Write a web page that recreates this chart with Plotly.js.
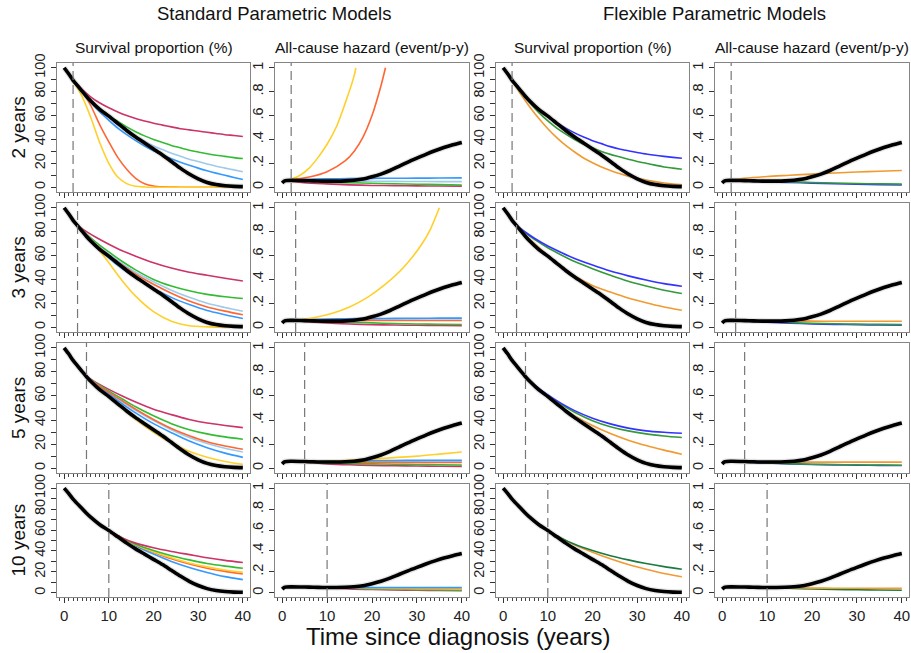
<!DOCTYPE html>
<html><head><meta charset="utf-8">
<script src="https://cdn.plot.ly/plotly-3.0.1.min.js"></script>
<style>html,body{margin:0;padding:0;background:#fff}#chart{width:911px;height:653px}</style>
</head><body><div id="chart"></div>
<script>
// ---------------- DATA ----------------
const cutoffs = [2, 3, 5, 10];
const rowLabels = ['2 years', '3 years', '5 years', '10 years'];
const colTitles = ['Survival proportion (%)', 'All-cause hazard (event/p-y)', 'Survival proportion (%)', 'All-cause hazard (event/p-y)'];
const groupTitles = ['Standard Parametric Models', 'Flexible Parametric Models'];
const xTitle = 'Time since diagnosis (years)';
const hazTickVals = [0, 0.2, 0.4, 0.6, 0.8, 1];
const hazTickText = ['0', '.2', '.4', '.6', '.8', '1'];

// observed (black) curves, same in every panel
const tBlackS = [0,1,2,3,4,5,6,8,10,12,14,16,18,20,22,24,26,28,30,32,34,36,38,40];
const sBlack  = [100,95,89.5,85,80.5,76,72,65,59.5,53.5,47.5,42,37,32,27,21.5,16,11,7,4,2.2,1.2,0.7,0.5];
const tBlackH = [0,0.5,1,2,4,6,8,10,12,14,16,18,20,22,24,26,28,30,32,34,36,38,40];
const hBlack  = [0.035,0.052,0.056,0.057,0.056,0.054,0.052,0.051,0.051,0.053,0.058,0.068,0.087,0.11,0.14,0.175,0.21,0.243,0.275,0.305,0.332,0.355,0.375];

// ---- 2 years ----
const tS2 = [2,4,6,8,10,12,14,16,18,20,22,24,26,28,30,32,34,36,38,40];
const s2_crimson   = [89.5,82,75.5,70.5,66.5,63,60,57.5,55.5,53.5,52,50.5,49,48,47,46,45,44,43.3,42.5];
const s2_green     = [89.5,81,73,66,60,55,50.5,46.5,43,40,37.5,35,33,31,29.5,28,26.8,25.8,24.8,24];
const s2_lightblue = [89.5,80.5,72.5,65,58.5,52.5,47,42.5,38.5,34.5,31.5,28.5,26,23.5,21.5,19.5,17.5,16,14.5,13];
const s2_blue      = [89.5,80,71,63,56,49.5,44,39,34.5,30.5,27,23.8,21,18.4,16,13.8,11.8,10,8.2,6.5];
const s2_orangered = [89.5,81,68,52,38,25,15,7.5,3,1,0.3,0.1,0,0,0,0,0,0,0,0];
const s2_yellow    = [89.5,76,58,37,20,8.5,3,0.8,0.2,0,0,0,0,0,0,0,0,0,0,0];
const tH2 = [2,5,10,15,20,25,30,35,40];
const h2_crimson   = [0.05,0.038,0.028,0.02,0.015,0.013,0.011,0.01,0.009];
const h2_green     = [0.052,0.05,0.044,0.038,0.033,0.029,0.025,0.022,0.019];
const h2_lightblue = [0.055,0.054,0.053,0.051,0.05,0.049,0.048,0.047,0.047];
const h2_blue      = [0.057,0.064,0.07,0.072,0.074,0.075,0.076,0.077,0.078];
const tH2_orangered = [2,6,10,14,16,18,20,22,23];
const h2_orangered  = [0.06,0.085,0.13,0.22,0.3,0.42,0.6,0.85,1.0];
const tH2_yellow = [2,4,6,8,10,12,14,16,16.4];
const h2_yellow  = [0.065,0.1,0.16,0.25,0.36,0.5,0.7,0.93,1.0];
const f2_blue   = [89.5,80.5,72.5,65.5,59.5,54,49.5,45.5,42,39,36.5,34,32,30.5,29,27.8,26.7,25.8,25,24.3];
const f2_green  = [89.5,79.5,70.5,62.5,55.5,49.5,44.5,40,36,33,30,27.5,25.5,23.5,21.5,20,18.5,17,16,15];
const f2_orange = [89.5,77.5,67,57.5,49,41.5,35,29.5,24.5,20.5,17,14,11.5,9.3,7.5,6,4.7,3.6,2.7,2];
const fh2_blue   = [0.055,0.052,0.046,0.04,0.034,0.029,0.025,0.022,0.02];
const fh2_green  = [0.058,0.056,0.051,0.045,0.04,0.035,0.031,0.028,0.026];
const fh2_orange = [0.06,0.075,0.09,0.1,0.11,0.119,0.127,0.134,0.14];

// ---- 3 years ----
const tS3 = [3,5,7,10,13,16,20,24,28,32,36,40];
const s3_crimson   = [85,80,75.5,69.5,64,59.5,54,49.5,46,43.5,41,38.7];
const s3_green     = [85,78,71.5,63,55,48,40,34.5,30.5,27.5,25.5,24];
const s3_lightblue = [85,77,70,61,53,46,38,31,25,20,16.5,13.4];
const s3_orangered = [85,77,69.5,60,52,44.5,36,28.5,22,17,13.5,10.5];
const s3_blue      = [85,76.5,68.5,58,49,41.5,32.5,25,19,14,10.5,7.3];
const s3_yellow    = [85,77,68.5,54,39,26,13,5,1.3,0.3,0,0];
const tH3 = [3,5,10,15,20,25,30,35,40];
const h3_crimson   = [0.056,0.048,0.035,0.027,0.021,0.018,0.016,0.014,0.012];
const h3_green     = [0.057,0.054,0.048,0.042,0.036,0.031,0.027,0.025,0.023];
const h3_lightblue = [0.058,0.06,0.063,0.066,0.068,0.069,0.07,0.071,0.072];
const h3_orangered = [0.058,0.058,0.058,0.057,0.057,0.056,0.056,0.056,0.056];
const h3_blue      = [0.058,0.063,0.068,0.071,0.073,0.074,0.075,0.076,0.076];
const tH3_yellow = [3,7,11,15,19,23,27,31,33,35];
const h3_yellow  = [0.06,0.08,0.115,0.17,0.25,0.36,0.5,0.69,0.82,1.0];
const f3_blue   = [85,79.5,74.5,68,62.5,57.5,52,47,43,39.5,36.5,34.3];
const f3_green  = [85,79,73.5,66.5,60.5,55,49,43.5,38.5,34.5,31,28.2];
const f3_orange = [85,77,70,60,51,43,35,29.5,24.5,20.5,17,14.2];
const fh3_blue   = [0.055,0.05,0.042,0.034,0.028,0.024,0.021,0.019,0.017];
const fh3_green  = [0.055,0.052,0.045,0.039,0.033,0.029,0.026,0.024,0.022];
const fh3_orange = [0.055,0.053,0.052,0.051,0.051,0.05,0.05,0.05,0.05];

// ---- 5 years ----
const tS5 = [5,7,10,13,16,20,24,28,32,36,40];
const s5_crimson   = [76,71.5,65.5,60,55,49,44.5,40.5,37.5,35.5,33.7];
const s5_green     = [76,71,64,57.5,51,43.5,37,32,28.5,26,24.1];
const s5_lightblue = [76,70.5,62.5,55,48,39.5,32,25.5,20.5,16.5,13.4];
const s5_blue      = [76,70,61.5,53.5,46,37,29.5,22.5,17,12.5,9];
const s5_orangered = [76,70.5,63,56,49,40.5,33,27,22,18.5,15.7];
const s5_yellow    = [76,69,59,49.5,40.5,30,21,14,9,5.5,3.2];
const tH5 = [5,10,15,20,25,30,35,40];
const h5_crimson   = [0.05,0.036,0.028,0.023,0.02,0.018,0.016,0.015];
const h5_green     = [0.05,0.044,0.04,0.036,0.033,0.031,0.029,0.027];
const h5_lightblue = [0.05,0.054,0.056,0.057,0.058,0.058,0.059,0.059];
const h5_blue      = [0.05,0.058,0.061,0.063,0.064,0.065,0.066,0.066];
const h5_orangered = [0.05,0.049,0.049,0.048,0.048,0.047,0.047,0.047];
const h5_yellow    = [0.05,0.058,0.066,0.076,0.088,0.1,0.117,0.135];
const f5_blue   = [76,69.3,60.8,53.8,47.8,41.5,36.8,33.3,31,29.8,29];
const f5_green  = [76,69.2,60.5,53,46.5,39.5,34.5,31,28.5,26.8,25.5];
const f5_orange = [76,68.8,59.2,50.8,43.5,35.5,28.8,23.3,18.8,15,11.6];
const fh5_blue   = [0.05,0.043,0.036,0.031,0.027,0.025,0.023,0.022];
const fh5_green  = [0.05,0.044,0.038,0.033,0.03,0.028,0.026,0.025];
const fh5_orange = [0.05,0.05,0.05,0.05,0.05,0.05,0.05,0.05];

// ---- 10 years ----
const tS10 = [10,13,16,20,24,28,32,36,40];
const s10_crimson   = [59.5,52.5,47.5,43,39.5,36.5,33.5,31,28.9];
const s10_green     = [59.5,52.3,46.5,40.5,35.5,31.5,28,25.5,23.5];
const s10_blue      = [59.5,52,45,37,30,24.3,19.5,15.5,12.6];
const s10_orangered = [59.5,52.2,45.8,38.8,32.5,27.5,23.5,20.5,18];
const s10_yellow    = [59.5,52.2,46,39.3,33.5,28.5,24.8,21.8,19.5];
const tH10 = [10,15,20,25,30,35,40];
const h10_crimson   = [0.05,0.038,0.031,0.027,0.024,0.022,0.02];
const h10_green     = [0.05,0.043,0.037,0.033,0.03,0.028,0.026];
const h10_blue      = [0.05,0.05,0.05,0.05,0.05,0.05,0.05];
const h10_orangered = [0.05,0.046,0.042,0.039,0.037,0.035,0.034];
const h10_yellow    = [0.05,0.047,0.044,0.042,0.04,0.039,0.038];
const f10_green  = [59.5,52.3,46.5,40.5,35.5,31.5,28,25,22.5];
const f10_orange = [59.5,52.2,45.8,38.8,32.5,27,22.5,18.5,15.3];
const fh10_green  = [0.05,0.043,0.037,0.032,0.029,0.027,0.025];
const fh10_orange = [0.05,0.047,0.045,0.044,0.043,0.042,0.042];

// ---------------- STYLE ----------------
const COL = {
  crimson: '#CC3366', green: '#33BB33', lightblue: '#9FCBEA', blue: '#3399FF',
  orangered: '#FF6633', yellow: '#FFD02A',
  fblue: '#3333FF', fgreen: '#33993A', forange: '#F09A30', fdkgreen: '#1A7A40'
};

// panel contents: [x, y, colourKey]
const panels = [
  [[tS2,s2_crimson,'crimson'],[tS2,s2_green,'green'],[tS2,s2_lightblue,'lightblue'],[tS2,s2_blue,'blue'],[tS2,s2_orangered,'orangered'],[tS2,s2_yellow,'yellow']],
  [[tH2,h2_crimson,'crimson'],[tH2,h2_green,'green'],[tH2,h2_lightblue,'lightblue'],[tH2,h2_blue,'blue'],[tH2_orangered,h2_orangered,'orangered'],[tH2_yellow,h2_yellow,'yellow']],
  [[tS2,f2_orange,'forange'],[tS2,f2_green,'fgreen'],[tS2,f2_blue,'fblue']],
  [[tH2,fh2_blue,'fblue'],[tH2,fh2_green,'fgreen'],[tH2,fh2_orange,'forange']],
  [[tS3,s3_crimson,'crimson'],[tS3,s3_green,'green'],[tS3,s3_lightblue,'lightblue'],[tS3,s3_blue,'blue'],[tS3,s3_orangered,'orangered'],[tS3,s3_yellow,'yellow']],
  [[tH3,h3_crimson,'crimson'],[tH3,h3_green,'green'],[tH3,h3_lightblue,'lightblue'],[tH3,h3_blue,'blue'],[tH3,h3_orangered,'orangered'],[tH3_yellow,h3_yellow,'yellow']],
  [[tS3,f3_orange,'forange'],[tS3,f3_green,'fgreen'],[tS3,f3_blue,'fblue']],
  [[tH3,fh3_blue,'fblue'],[tH3,fh3_green,'fgreen'],[tH3,fh3_orange,'forange']],
  [[tS5,s5_crimson,'crimson'],[tS5,s5_green,'green'],[tS5,s5_lightblue,'lightblue'],[tS5,s5_blue,'blue'],[tS5,s5_orangered,'orangered'],[tS5,s5_yellow,'yellow']],
  [[tH5,h5_crimson,'crimson'],[tH5,h5_green,'green'],[tH5,h5_lightblue,'lightblue'],[tH5,h5_blue,'blue'],[tH5,h5_orangered,'orangered'],[tH5,h5_yellow,'yellow']],
  [[tS5,f5_orange,'forange'],[tS5,f5_green,'fgreen'],[tS5,f5_blue,'fblue']],
  [[tH5,fh5_blue,'fblue'],[tH5,fh5_green,'fgreen'],[tH5,fh5_orange,'forange']],
  [[tS10,s10_blue,'blue'],[tS10,s10_orangered,'orangered'],[tS10,s10_yellow,'yellow'],[tS10,s10_green,'green'],[tS10,s10_crimson,'crimson']],
  [[tH10,h10_crimson,'crimson'],[tH10,h10_green,'green'],[tH10,h10_orangered,'orangered'],[tH10,h10_yellow,'yellow'],[tH10,h10_blue,'blue']],
  [[tS10,f10_orange,'forange'],[tS10,f10_green,'fdkgreen']],
  [[tH10,fh10_green,'fdkgreen'],[tH10,fh10_orange,'forange']]
];

// ---------------- LAYOUT ----------------
const W = 911, H = 653;
const FONT = 'Liberation Sans, Arial, Helvetica, sans-serif';
const colDom = [[57,250],[275,469],[496,689],[715,909]];
const rowDom = [[63,192],[203,332],[343,473],[484,597]];
const px = v => v / W, py = v => 1 - v / H;

const traces = [];
const layout = {
  width: W, height: H, margin: {l:0, r:0, t:0, b:0},
  paper_bgcolor: '#fff', plot_bgcolor: '#fff', showlegend: false,
  font: {family: FONT, size: 13, color: '#222'},
  shapes: [], annotations: []
};

for (let r = 0; r < 4; r++) {
  for (let c = 0; c < 4; c++) {
    const n = r * 4 + c + 1;
    const xa = n === 1 ? 'x' : 'x' + n, ya = n === 1 ? 'y' : 'y' + n;
    const xk = n === 1 ? 'xaxis' : 'xaxis' + n, yk = n === 1 ? 'yaxis' : 'yaxis' + n;
    const isHaz = (c % 2) === 1;
    layout[xk] = {
      domain: [px(colDom[c][0]), px(colDom[c][1])], anchor: ya,
      range: [-1.6, 41.6], showgrid: false, zeroline: false,
      showline: true, mirror: true, linecolor: '#858585', linewidth: 1,
      ticks: 'outside', ticklen: 5, tickwidth: 1, tickcolor: '#333',
      tickmode: 'linear', tick0: 0, dtick: 10,
      minor: {ticks: 'outside', dtick: 1, tick0: 0, ticklen: 2.5, tickwidth: 1, tickcolor: '#444', showgrid: false},
      showticklabels: r === 3, tickfont: {family: FONT, size: 15, color: '#222'}
    };
    const yax = {
      domain: [py(rowDom[r][1]), py(rowDom[r][0])], anchor: xa,
      showgrid: false, zeroline: false,
      showline: true, mirror: true, linecolor: '#858585', linewidth: 1,
      ticks: 'outside', ticklen: 5, tickwidth: 1, tickcolor: '#333',
      tickangle: -90, tickfont: {family: FONT, size: 14.5, color: '#222'}
    };
    if (isHaz) {
      Object.assign(yax, {range: [-0.04, 1.04], tickmode: 'array', tickvals: hazTickVals, ticktext: hazTickText});
    } else {
      Object.assign(yax, {range: [-4, 104], tickmode: 'linear', tick0: 0, dtick: 20,
        minor: {ticks: 'outside', dtick: 10, tick0: 0, ticklen: 5, tickwidth: 1, tickcolor: '#333', showgrid: false}});
    }
    layout[yk] = yax;

    layout.shapes.push({type: 'line', xref: xa, yref: ya + ' domain', x0: cutoffs[r], x1: cutoffs[r], y0: 0, y1: 1,
      line: {color: '#777', width: 1.2, dash: '9px,5px'}});

    panels[n - 1].forEach(s => {
      traces.push({type: 'scatter', mode: 'lines', x: s[0], y: s[1], xaxis: xa, yaxis: ya,
        line: {color: COL[s[2]], width: 1.6, shape: 'spline', smoothing: 0.8}, hoverinfo: 'skip'});
    });
    const bx = isHaz ? tBlackH : tBlackS, by = isHaz ? hBlack : sBlack;
    traces.push({type: 'scatter', mode: 'lines', x: bx, y: by, xaxis: xa, yaxis: ya,
      line: {color: 'rgba(90,90,90,0.16)', width: 6, shape: 'spline', smoothing: 0.8}, hoverinfo: 'skip'});
    traces.push({type: 'scatter', mode: 'lines', x: bx, y: by, xaxis: xa, yaxis: ya,
      line: {color: '#000', width: 3.6, shape: 'spline', smoothing: 0.8}, hoverinfo: 'skip'});
  }
}

const ann = (text, x, y, size, angle) => layout.annotations.push({text, x: px(x), y: py(y), xref: 'paper', yref: 'paper',
  xanchor: 'center', yanchor: 'middle', showarrow: false, textangle: angle || 0, font: {family: FONT, size, color: '#111'}});
ann(groupTitles[0], 274, 14, 18.5);
ann(groupTitles[1], 714, 14, 18.5);
colTitles.forEach((t, c) => ann(t, (colDom[c][0] + colDom[c][1]) / 2, 47, 15.5));
rowLabels.forEach((t, r) => ann(t, 18, (rowDom[r][0] + rowDom[r][1]) / 2, 19, -90));
ann(xTitle, 459, 636, 24);

Plotly.newPlot('chart', traces, layout, {displayModeBar: false, staticPlot: true});
</script>
</body></html>
